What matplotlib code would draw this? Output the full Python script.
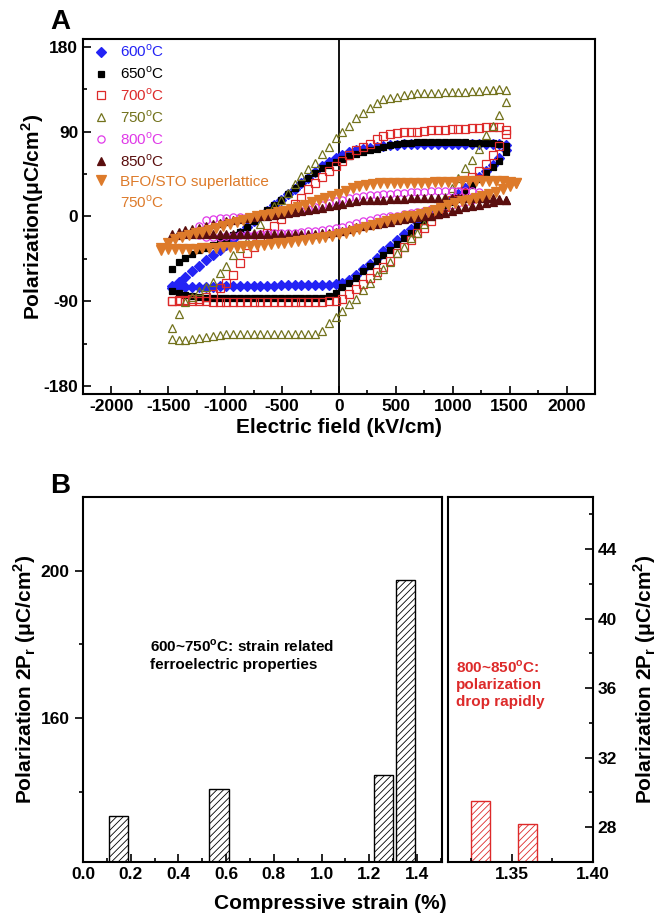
import matplotlib
matplotlib.use('Agg')
import matplotlib.pyplot as plt
from matplotlib.lines import Line2D
from matplotlib.ticker import MultipleLocator, FixedLocator

plt.rcParams['font.family'] = ['Liberation Sans', 'DejaVu Sans']
plt.rcParams['mathtext.fontset'] = 'custom'
plt.rcParams['mathtext.rm'] = 'Liberation Sans'
plt.rcParams['mathtext.bf'] = 'Liberation Sans:bold'
plt.rcParams['hatch.linewidth'] = 0.6
plt.rcParams['axes.unicode_minus'] = False

# ---- panel A: P-E loops (upper and lower branch) ----
E = [-1470, -1410, -1350, -1290, -1230, -1170, -1110, -1050, -990, -930,
     -870, -810, -750, -690, -630, -570, -510, -450, -390, -330,
     -270, -210, -150, -90, -30, 30, 90, 150, 210, 270,
     330, 390, 450, 510, 570, 630, 690, 750, 810, 870,
     930, 990, 1050, 1110, 1170, 1230, 1290, 1350, 1410, 1470]

p600_up = [-74, -69, -64, -58, -52, -46, -41, -36, -30, -24,
           -18, -11, -5, 1, 6, 12, 18, 24, 29, 35,
           41, 47, 53, 58, 62, 65, 68, 70, 72, 73,
           74, 75, 76, 76, 77, 77, 77, 77, 77, 77,
           77, 77, 77, 77, 77, 77, 77, 77, 77, 76]
p600_lo = [-76, -75, -75, -75, -75, -75, -75, -74, -74, -74,
           -74, -74, -74, -74, -74, -74, -73, -73, -73, -73,
           -73, -73, -73, -73, -72, -70, -67, -62, -56, -50,
           -44, -37, -31, -25, -19, -13, -6, -1, 4, 9,
           14, 19, 24, 30, 36, 42, 48, 55, 62, 70]

p650_up = [-56, -48, -44, -40, -36, -33, -30, -27, -24, -20,
           -16, -11, -5, 1, 7, 12, 18, 24, 30, 36,
           41, 46, 51, 55, 58, 61, 64, 66, 68, 70,
           72, 74, 76, 77, 78, 78, 79, 79, 79, 79,
           79, 79, 79, 79, 78, 78, 78, 78, 77, 75]
p650_lo = [-79, -81, -83, -84, -85, -86, -86, -86, -86, -86,
           -86, -86, -86, -86, -86, -86, -86, -86, -86, -86,
           -86, -86, -86, -84, -81, -75, -70, -65, -58, -52,
           -47, -41, -36, -29, -23, -17, -10, -5, 0, 5,
           10, 15, 21, 27, 33, 40, 46, 52, 59, 68]

p700_up = [-89, -88, -88, -87, -87, -85, -82, -76, -70, -62,
           -49, -39, -32, -24, -17, -10, -3, 5, 13, 20,
           29, 36, 42, 48, 53, 59, 65, 70, 74, 77,
           82, 85, 87, 88, 89, 90, 90, 91, 92, 92,
           92, 93, 93, 93, 94, 94, 95, 95, 95, 92]
p700_lo = [-90, -90, -90, -90, -90, -90, -91, -91, -91, -91,
           -91, -91, -91, -91, -91, -91, -91, -91, -91, -91,
           -91, -91, -91, -90, -89, -87, -82, -77, -71, -65,
           -59, -54, -47, -39, -32, -25, -18, -12, -5, 3,
           10, 18, 26, 33, 42, 48, 56, 65, 75, 87]

p750_up = [-118, -103, -91, -85, -79, -75, -69, -60, -52, -41,
           -33, -26, -17, -8, 2, 11, 18, 25, 34, 43,
           50, 57, 66, 74, 83, 89, 96, 104, 110, 115,
           120, 124, 126, 127, 129, 130, 131, 131, 131, 131,
           132, 132, 132, 132, 133, 133, 134, 134, 135, 134]
p750_lo = [-130, -131, -131, -130, -129, -128, -127, -126, -125, -125,
           -124, -124, -124, -124, -124, -124, -124, -124, -124, -124,
           -124, -124, -121, -113, -106, -100, -93, -87, -78, -70,
           -62, -56, -48, -39, -32, -23, -17, -8, 1, 11,
           21, 30, 41, 51, 60, 72, 86, 96, 108, 121]

p850_up = [-19, -16, -14, -13, -12, -10, -8, -7, -5, -4,
           -3, -2, -1, 0, 1, 2, 3, 4, 5, 6,
           7, 8, 9, 11, 12, 13, 15, 16, 17, 17,
           18, 18, 19, 19, 19, 20, 20, 20, 20, 20,
           20, 20, 20, 20, 20, 20, 20, 20, 19, 18]
p850_lo = [-21, -20, -19, -19, -19, -19, -19, -19, -19, -19,
           -19, -19, -19, -19, -19, -19, -19, -19, -19, -19,
           -19, -19, -18, -17, -16, -15, -13, -11, -10, -9,
           -8, -7, -6, -4, -3, -2, -1, 0, 1, 3,
           4, 6, 8, 10, 11, 12, 14, 15, 17, 18]

E800 = [-1230, -1170, -1110, -1050, -990, -930, -870, -810, -750, -690,
        -630, -570, -510, -450, -390, -330, -270, -210, -150, -90,
        -30, 30, 90, 150, 210, 270, 330, 390, 450, 510,
        570, 630, 690, 750, 810, 870, 930, 990, 1050, 1110,
        1170, 1230]
p800_up = [-10, -4, -3, -2, -2, -1, -1, -1, 0, 1,
           1, 2, 3, 4, 5, 6, 8, 10, 12, 14,
           16, 18, 20, 21, 22, 23, 23, 24, 24, 25,
           25, 26, 26, 26, 27, 27, 27, 27, 27, 27,
           27, 26]
p800_lo = [-20, -22, -22, -22, -21, -21, -20, -20, -20, -19,
           -19, -18, -18, -17, -17, -16, -15, -15, -14, -13,
           -12, -11, -9, -7, -5, -4, -2, -1, 0, 1,
           3, 4, 5, 6, 8, 9, 11, 12, 14, 15,
           17, 21]

E_sl = [-1560, -1500, -1440, -1380, -1320, -1260, -1200, -1140, -1080, -1020,
        -960, -900, -840, -780, -720, -660, -600, -540, -480, -420,
        -360, -300, -240, -180, -120, -60, 0, 60, 120, 180,
        240, 300, 360, 420, 480, 540, 600, 660, 720, 780,
        840, 900, 960, 1020, 1080, 1140, 1200, 1260, 1320, 1380,
        1440, 1500, 1560]
p_sl_up = [-33, -28, -24, -22, -20, -18, -16, -14, -12, -10,
           -8, -6, -4, -2, 0, 2, 3, 5, 6, 8,
           10, 12, 15, 17, 20, 22, 24, 27, 30, 32,
           33, 34, 35, 35, 36, 36, 36, 36, 36, 36,
           37, 37, 37, 37, 38, 38, 38, 38, 38, 38,
           38, 37, 35]
p_sl_lo = [-35, -34, -34, -34, -34, -34, -33, -33, -33, -32,
           -32, -32, -31, -31, -30, -30, -29, -28, -28, -27,
           -26, -25, -24, -23, -22, -21, -19, -17, -15, -13,
           -11, -9, -7, -5, -3, -2, 0, 1, 3, 5,
           7, 9, 12, 14, 16, 18, 20, 22, 24, 26,
           29, 32, 35]

# ---- panel B: 2Pr vs strain ----
strain = [0.15, 0.57, 1.26, 1.35]
pr2 = [133.6, 140.7, 144.5, 197.6]
strain_hi = [1.331, 1.36]
pr2_hi = [29.5, 28.2]

blue = '#2323f5'
red = '#dd2a2a'
olive = '#72721c'
magenta = '#e03ae8'
darkred = '#5a0e0e'
orange = '#dd7a2a'

fig = plt.figure(figsize=(6.65, 9.16), dpi=100)
axA = fig.add_axes([0.1248, 0.5699, 0.7699, 0.3875])

series = [
    (E, p600_up, p600_lo, 'D', 4.6, blue, blue, '600$^\\mathrm{o}$C'),
    (E, p650_up, p650_lo, 's', 5.0, 'black', 'black', '650$^\\mathrm{o}$C'),
    (E, p700_up, p700_lo, 's', 5.4, 'none', red, '700$^\\mathrm{o}$C'),
    (E, p750_up, p750_lo, '^', 6.2, 'none', olive, '750$^\\mathrm{o}$C'),
    (E800, p800_up, p800_lo, 'o', 5.2, 'none', magenta, '800$^\\mathrm{o}$C'),
    (E, p850_up, p850_lo, '^', 5.8, darkred, darkred, '850$^\\mathrm{o}$C'),
    (E_sl, p_sl_up, p_sl_lo, 'v', 6.8, orange, orange, 'BFO/STO superlattice'),
]
handles = []
labels = []
colors = []
for ex, up, lo, mk, ms, fc, ec, lab in series:
    h, = axA.plot(ex + ex, up + lo, ls='none', marker=mk, ms=ms, mfc=fc, mec=ec, mew=0.9)
    handles.append(h)
    labels.append(lab)
    colors.append(ec)
handles.append(Line2D([], [], ls='none'))
labels.append('750$^\\mathrm{o}$C')
colors.append(orange)

axA.axvline(0, color='black', lw=1.3, zorder=1)
axA.set_xlim(-2250, 2250)
axA.set_ylim(-188, 188)
axA.xaxis.set_major_locator(MultipleLocator(500))
axA.xaxis.set_minor_locator(MultipleLocator(250))
axA.yaxis.set_major_locator(MultipleLocator(90))
axA.yaxis.set_minor_locator(MultipleLocator(45))
axA.tick_params(which='both', direction='in', width=1.2, labelsize=12.5)
axA.tick_params(which='major', length=6)
axA.tick_params(which='minor', length=3)
axA.set_xlabel('Electric field (kV/cm)', fontsize=15, fontweight='bold', labelpad=3)
axA.set_ylabel('Polarization(μC/cm$^\\mathbf{2}$)', fontsize=15, fontweight='bold', labelpad=-2)
leg = axA.legend(handles, labels, loc='upper left', bbox_to_anchor=(0.0, 1.018), frameon=False,
                 fontsize=11, handlelength=1.0, handletextpad=0.75, labelspacing=0.34,
                 borderaxespad=0.3, labelcolor=colors)
fig.text(0.09, 0.976, 'A', fontsize=20, fontweight='bold', ha='center', va='center')

# panel B, left
axL = fig.add_axes([0.1248, 0.0590, 0.5399, 0.3984])
axL.bar(strain, pr2, width=0.08, color='white', edgecolor='black', hatch='/////', lw=1.0)
axL.set_xlim(0, 1.505)
axL.set_ylim(121, 220)
axL.xaxis.set_major_locator(MultipleLocator(0.2))
axL.xaxis.set_minor_locator(MultipleLocator(0.1))
axL.yaxis.set_major_locator(FixedLocator([160, 200]))
axL.yaxis.set_minor_locator(FixedLocator([140, 180]))
axL.xaxis.set_major_formatter(matplotlib.ticker.FormatStrFormatter('%.1f'))
axL.tick_params(axis='x', which='both', direction='in', width=1.2, labelsize=12.5)
axL.tick_params(axis='y', which='both', direction='out', width=1.2, labelsize=12.5)
axL.tick_params(which='major', length=6)
axL.tick_params(which='minor', length=3)
axL.set_ylabel('Polarization 2P$_\\mathbf{r}$ (μC/cm$^\\mathbf{2}$)', fontsize=15,
               fontweight='bold', labelpad=2)
axL.text(0.187, 0.567, '600~750$^\\mathbf{o}$C: strain related\nferroelectric properties',
         transform=axL.transAxes, fontsize=11, fontweight='bold', va='center', ha='left',
         linespacing=1.25)
fig.text(0.09, 0.469, 'B', fontsize=20, fontweight='bold', ha='center', va='center')

# panel B, right
axR = fig.add_axes([0.6737, 0.0590, 0.2180, 0.3984])
axR.bar(strain_hi, pr2_hi, width=0.0115, color='white', edgecolor=red, hatch='/////', lw=1.0)
axR.set_xlim(1.311, 1.40)
axR.set_ylim(26, 47)
axR.xaxis.set_major_locator(FixedLocator([1.35, 1.40]))
axR.xaxis.set_minor_locator(FixedLocator([1.325, 1.375]))
axR.xaxis.set_major_formatter(matplotlib.ticker.FormatStrFormatter('%.2f'))
axR.yaxis.set_major_locator(MultipleLocator(4))
axR.yaxis.set_minor_locator(MultipleLocator(2))
axR.yaxis.tick_right()
axR.yaxis.set_label_position('right')
axR.tick_params(which='both', direction='in', width=1.2, labelsize=12.5)
axR.tick_params(which='major', length=6)
axR.tick_params(which='minor', length=3)
axR.set_ylabel('Polarization 2P$_\\mathbf{r}$ (μC/cm$^\\mathbf{2}$)', fontsize=15,
               fontweight='bold', labelpad=10)
axR.text(0.055, 0.488, '800~850$^\\mathbf{o}$C:\npolarization\ndrop rapidly',
         transform=axR.transAxes, fontsize=11, fontweight='bold', color=red,
         va='center', ha='left', linespacing=1.25)
fig.text(0.496, 0.014, 'Compressive strain (%)', fontsize=15, fontweight='bold',
         ha='center', va='center')

for ax in (axA, axL, axR):
    for sp in ax.spines.values():
        sp.set_linewidth(1.5)
    for lbl in ax.get_xticklabels() + ax.get_yticklabels():
        lbl.set_fontweight('bold')

fig.savefig('out.png', dpi=100)
